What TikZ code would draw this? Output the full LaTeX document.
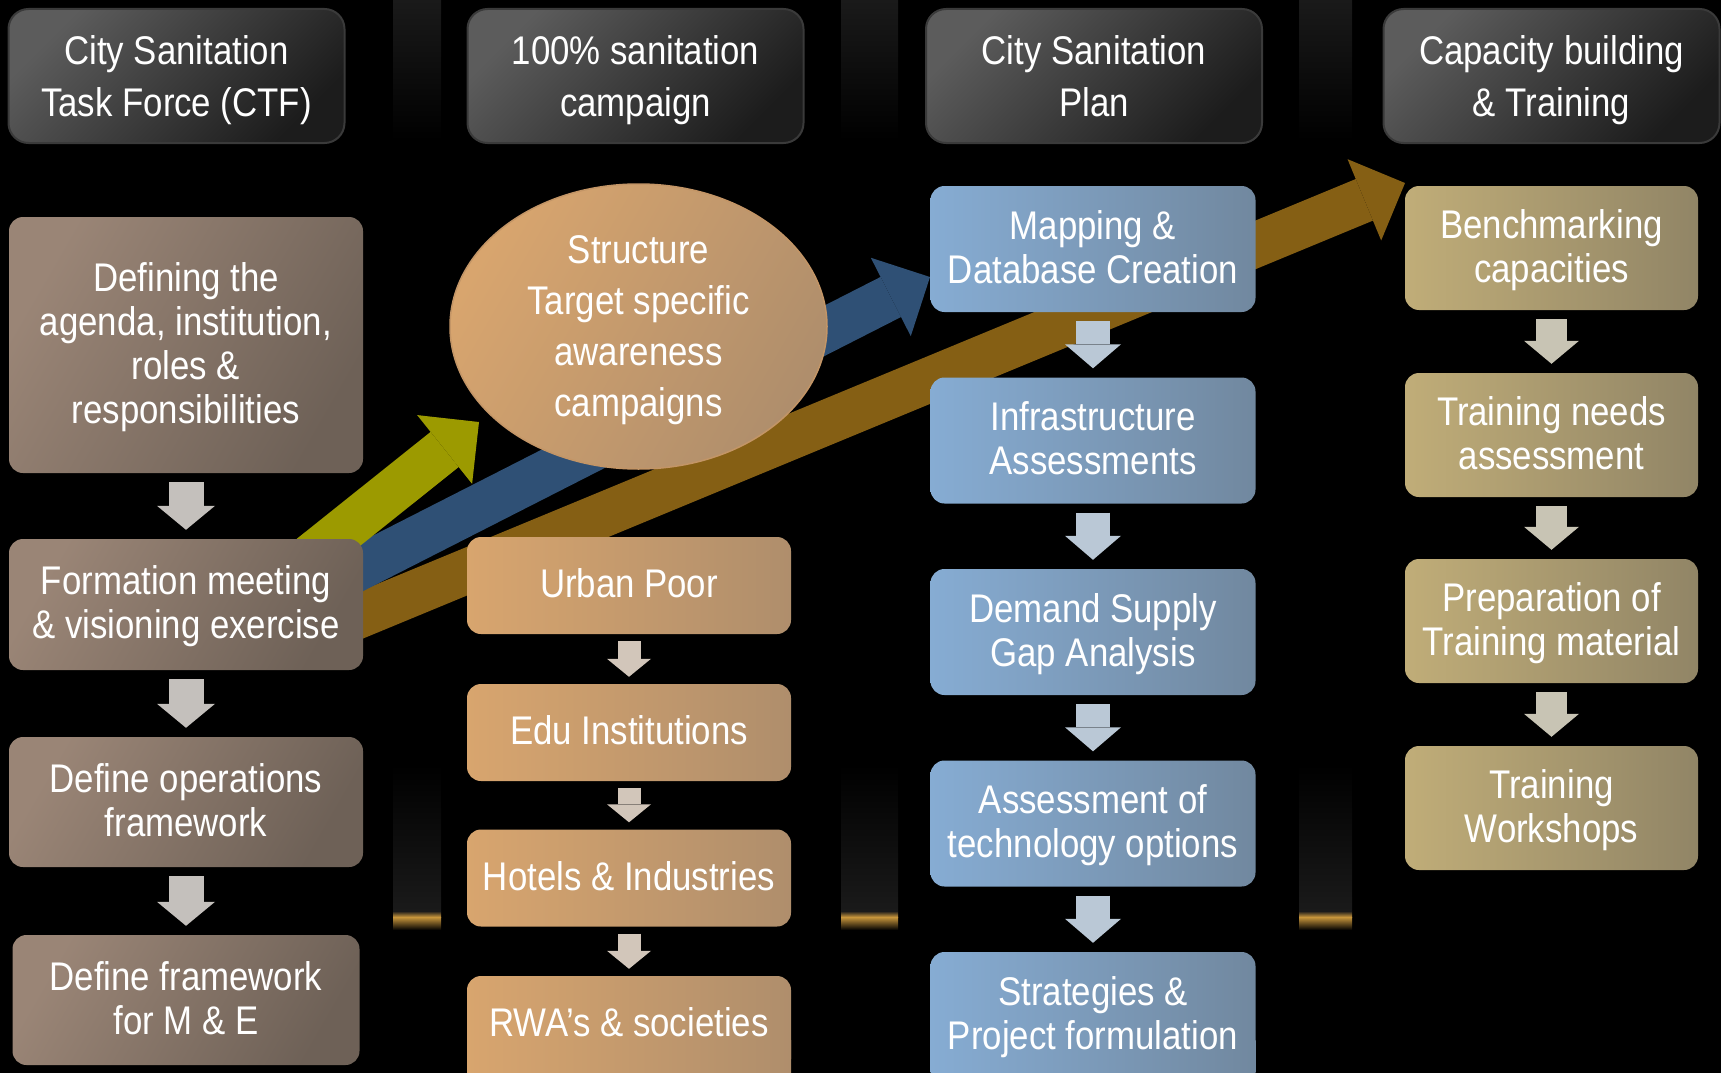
\documentclass[tikz,border=0pt]{standalone}
\usepackage{fontspec}
\newfontfamily\narrowfont{Liberation Sans}[FakeStretch=0.87]
\usetikzlibrary{arrows.meta,shapes.geometric}

\definecolor{hdrlight}{HTML}{5C5C5C}
\definecolor{hdrdark}{HTML}{1C1C1C}
\definecolor{hdrline}{HTML}{3A3A3A}
\definecolor{brownL}{HTML}{9A8576}
\definecolor{brownR}{HTML}{6E6157}
\definecolor{orangeL}{HTML}{D8A56E}
\definecolor{orangeR}{HTML}{AF8E6C}
\definecolor{ovalline}{HTML}{C39566}
\definecolor{blueL}{HTML}{86ACD3}
\definecolor{blueR}{HTML}{71889F}
\definecolor{khakiL}{HTML}{C0AD78}
\definecolor{khakiR}{HTML}{918566}
\definecolor{olivearrow}{HTML}{9C9A00}
\definecolor{bluearrow}{HTML}{2F5075}
\definecolor{brownarrow}{HTML}{855F14}
\definecolor{dropgray}{HTML}{C4C0BC}
\definecolor{dropsand}{HTML}{D2C6BA}
\definecolor{dropblue}{HTML}{BAC8D6}
\definecolor{dropkhaki}{HTML}{C8C4B4}
\definecolor{sepgray}{HTML}{1A1A1A}
\definecolor{glow}{HTML}{C8963C}

\newcommand\hdrstrut{\rule{0pt}{35pt}}

\tikzset{
  box/.style={rounded corners=14pt, inner sep=0pt, align=center, text=white,
    text depth=4.4pt, font=\narrowfont\fontsize{40}{44}\selectfont},
  header/.style={box, rounded corners=20pt, draw=hdrline, line width=2pt,
    top color=hdrlight, bottom color=hdrdark, shading angle=45,
    minimum width=336pt, minimum height=134pt, text depth=0pt,
    execute at begin node=\hdrstrut,
    font=\narrowfont\fontsize{40}{51.5}\selectfont},
  ctf/.style={box, top color=brownL, bottom color=brownR, shading angle=60,
    minimum width=354pt},
  camp/.style={box, left color=orangeL, right color=orangeR,
    minimum width=324pt, minimum height=97pt},
  plan/.style={box, left color=blueL, right color=blueR,
    minimum width=325pt, minimum height=126pt},
  train/.style={box, left color=khakiL, right color=khakiR,
    minimum width=293pt, minimum height=124pt},
  bigarrow/.style={line width=45pt, -{Triangle[length=44pt,width=88pt,line width=0pt]}},
  drop/.style n args={3}{line width=#1, shorten <=9pt, shorten >=9pt,
    -{Triangle[length=#3,width=#2,line width=0pt]}}
}

\begin{document}
\begin{tikzpicture}[x=1pt, y=-1pt]
\useasboundingbox (0,0) rectangle (1721,1073);
\fill [black] (0,0) rectangle (1721,1073);

\foreach \xa/\xb in {393/441, 841/898, 1299/1352} {
  \shade [top color=sepgray, bottom color=black] (\xa,0) rectangle (\xb,140);
  \shade [top color=black, bottom color=sepgray] (\xa,765) rectangle (\xb,911);
  \shade [top color=sepgray, bottom color=glow] (\xa,911) rectangle (\xb,917);
  \shade [top color=glow, bottom color=black] (\xa,917) rectangle (\xb,930);
}

\coordinate (S1) at (260,597);
\coordinate (S2) at (300,598);
\coordinate (S3) at (320,632);
\coordinate (olivetip) at (479,422);
\coordinate (bluetip) at (930,277);
\coordinate (browntip) at (1405,183);

\draw [bigarrow, brownarrow] (S3) -- (browntip);
\draw [bigarrow, bluearrow] (S2) -- (bluetip);
\draw [bigarrow, olivearrow] (S1) -- (olivetip);

\node [header] (h1) at (176.5,76) {City Sanitation\\Task Force (CTF)};
\node [header] (h2) at (635.5,76) {100\% sanitation\\campaign};
\node [header] (h3) at (1094,76) {City Sanitation\\Plan};
\node [header] (h4) at (1551.5,76) {Capacity building\\\& Training};

\node [ctf, minimum height=256pt] (b1) at (186,345) {Defining the\\agenda, institution,\\roles \&\\responsibilities};
\node [ctf, minimum height=131pt] (b2) at (186,604.5) {Formation meeting\\\& visioning exercise};
\node [ctf, minimum height=130pt] (b3) at (186,802) {Define operations\\framework};
\node [ctf, minimum height=130pt, minimum width=347pt] (b4) at (186,1000) {Define framework\\for M \& E};

\node [ellipse, inner sep=0pt, minimum width=377pt, minimum height=285pt,
  top color=orangeL, bottom color=orangeR, shading angle=60, draw=ovalline, line width=1.5pt,
  align=center, text=white, text depth=0pt, execute at begin node=\hdrstrut,
  font=\narrowfont\fontsize{40}{51}\selectfont]
  (aware) at (638.5,326.5) {Structure\\Target specific\\awareness\\campaigns};

\shade [left color=orangeL, right color=orangeR] (467,1040) rectangle (791,1080);
\node [camp] (c1) at (629,585.5) {Urban Poor};
\node [camp] (c2) at (629,732.5) {Edu Institutions};
\node [camp] (c3) at (629,878) {Hotels \& Industries};
\node [camp] (c4) at (629,1024.5) {RWA’s \& societies};

\shade [left color=blueL, right color=blueR] (930.5,1040) rectangle (1255.5,1080);
\node [plan] (d1) at (1093,249) {Mapping \&\\Database Creation};
\node [plan] (d2) at (1093,440.5) {Infrastructure\\Assessments};
\node [plan] (d3) at (1093,632) {Demand Supply\\Gap Analysis};
\node [plan] (d4) at (1093,823.5) {Assessment of\\technology options};
\node [plan] (d5) at (1093,1015) {Strategies \&\\Project formulation};

\node [train] (e1) at (1551.5,248) {Benchmarking\\capacities};
\node [train] (e2) at (1551.5,435) {Training needs\\assessment};
\node [train] (e3) at (1551.5,621) {Preparation of\\Training material};
\node [train] (e4) at (1551.5,808) {Training\\Workshops};

\foreach \a/\b in {b1/b2, b2/b3, b3/b4}
  \draw [drop={35pt}{58pt}{24pt}, dropgray] (\a) -- (\b);
\foreach \a/\b in {c1/c2, c2/c3, c3/c4}
  \draw [drop={23pt}{44pt}{18pt}, shorten <=7pt, shorten >=7pt, dropsand] (\a) -- (\b);
\foreach \a/\b in {d1/d2, d2/d3, d3/d4, d4/d5}
  \draw [drop={34pt}{56pt}{24pt}, dropblue] (\a) -- (\b);
\foreach \a/\b in {e1/e2, e2/e3, e3/e4}
  \draw [drop={31pt}{55pt}{23pt}, dropkhaki] (\a) -- (\b);
\end{tikzpicture}
\end{document}
